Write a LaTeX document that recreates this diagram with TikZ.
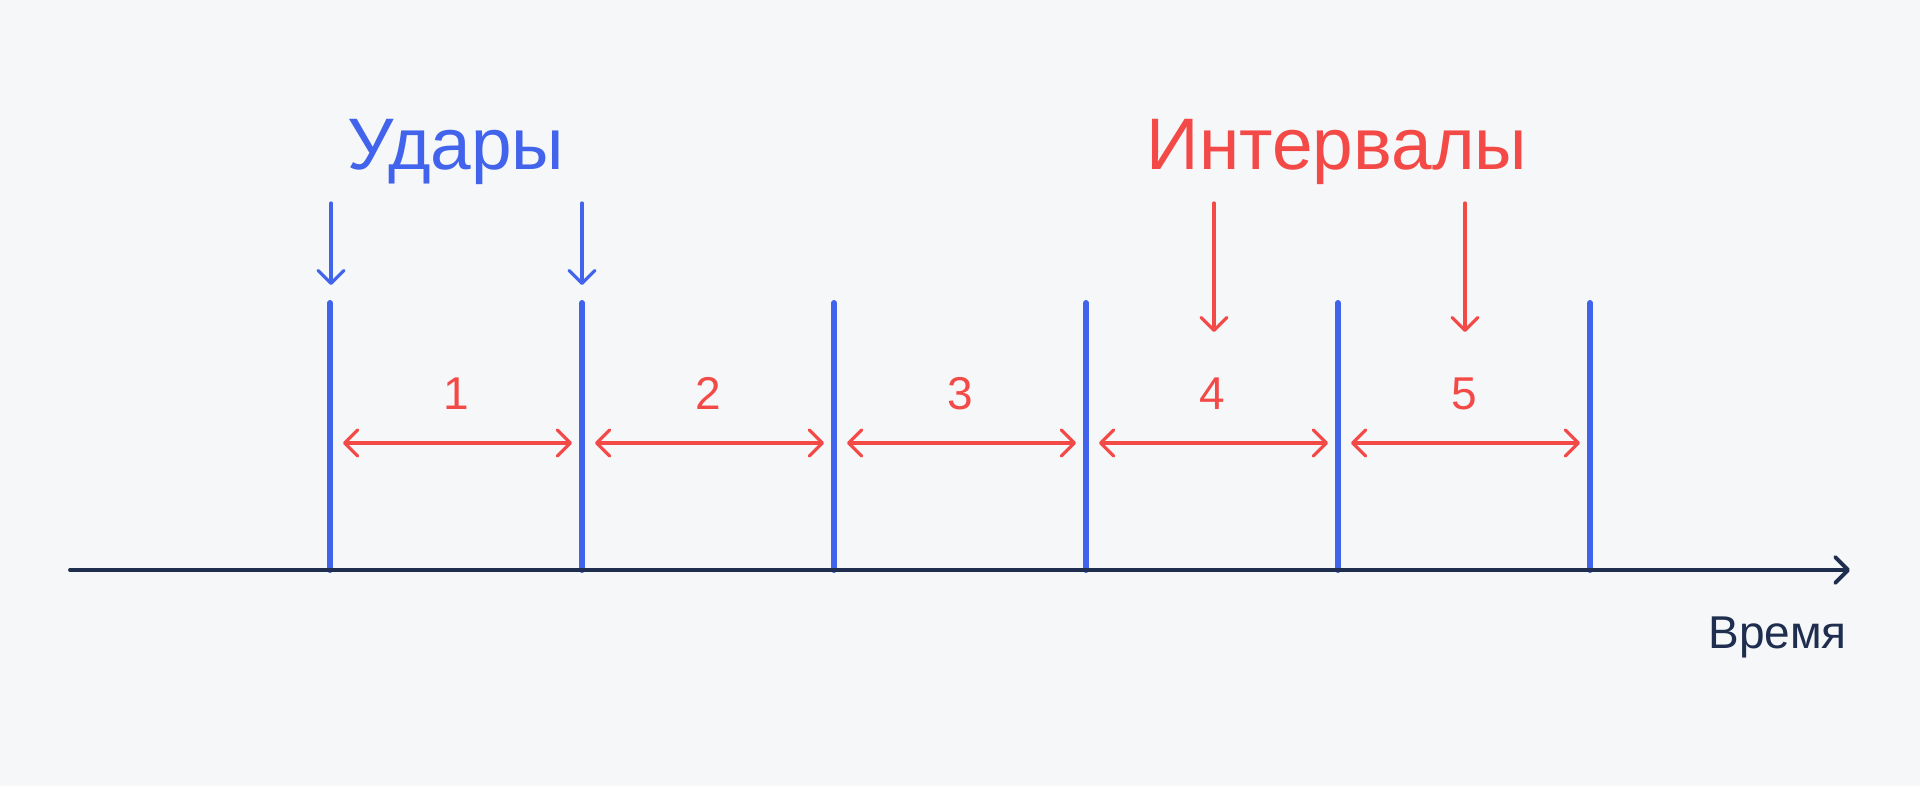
\documentclass[tikz,border=0pt]{standalone}
\usepackage{fontspec}
\setmainfont{Liberation Sans}
\usetikzlibrary{arrows.meta}
\definecolor{bg}{HTML}{F5F7F9}
\definecolor{cblue}{HTML}{4263EB}
\definecolor{cred}{HTML}{F44A47}
\definecolor{cnavy}{HTML}{1F2D4F}
\tikzset{
  barb/.tip={Straight Barb[length=13pt,width=26pt,line cap=round,line join=round]},
  barline/.style={cblue, line width=6pt, line cap=round},
  beatarrow/.style={cblue, line width=3.2pt, line cap=round, -barb},
  intarrow/.style={cred, line width=3.2pt, line cap=round, -barb},
  spanarrow/.style={cred, line width=3.3pt, line cap=round, barb-barb},
  axisline/.style={cnavy, line width=3.8pt, line cap=round, -barb},
  bigtitle/.style={inner sep=0pt, anchor=base, font=\fontsize{73}{80}\selectfont},
  numlabel/.style={cred, inner sep=0pt, anchor=base, font=\fontsize{46}{50}\selectfont},
}
\begin{document}
\begin{tikzpicture}[x=1pt,y=-1pt]
\fill[bg] (0,0) rectangle (1920,786);
\useasboundingbox (0,0) rectangle (1920,786);
% axis
\coordinate (ax0) at (70,570);
\coordinate (ax1) at (1850,570);
% bars
\foreach \i/\x in {1/330,2/582,3/834,4/1086,5/1338,6/1590}{
  \coordinate (bt\i) at (\x,303);
  \coordinate (bb\i) at (\x,570);
  \draw[barline] (bt\i) -- (bb\i);
}
\draw[axisline] (ax0) -- (ax1);
% span arrows and numbers
\foreach \i/\x in {1/330,2/582,3/834,4/1086,5/1338}{
  \coordinate (sl\i) at (\x+13,443);
  \coordinate (sr\i) at (\x+242,443);
  \draw[spanarrow] (sl\i) -- (sr\i);
  \node[numlabel] (n\i) at (\x+126,409) {\i};
}
% beat arrows
\coordinate (ba1s) at (331,203); \coordinate (ba1e) at (331,285);
\coordinate (ba2s) at (582,203); \coordinate (ba2e) at (582,285);
\draw[beatarrow] (ba1s) -- (ba1e);
\draw[beatarrow] (ba2s) -- (ba2e);
% interval arrows
\coordinate (ia1s) at (1214,203); \coordinate (ia1e) at (1214,332);
\coordinate (ia2s) at (1465,203); \coordinate (ia2e) at (1465,332);
\draw[intarrow] (ia1s) -- (ia1e);
\draw[intarrow] (ia2s) -- (ia2e);
% titles
\node[bigtitle, cblue] (udary) at (456,170) {Удары};
\node[bigtitle, cred] (intervaly) at (1337,170) {Интервалы};
\node[cnavy, inner sep=0pt, anchor=base east, font=\fontsize{46}{50}\selectfont] (vremya) at (1847,648) {Время};
\end{tikzpicture}
\end{document}
